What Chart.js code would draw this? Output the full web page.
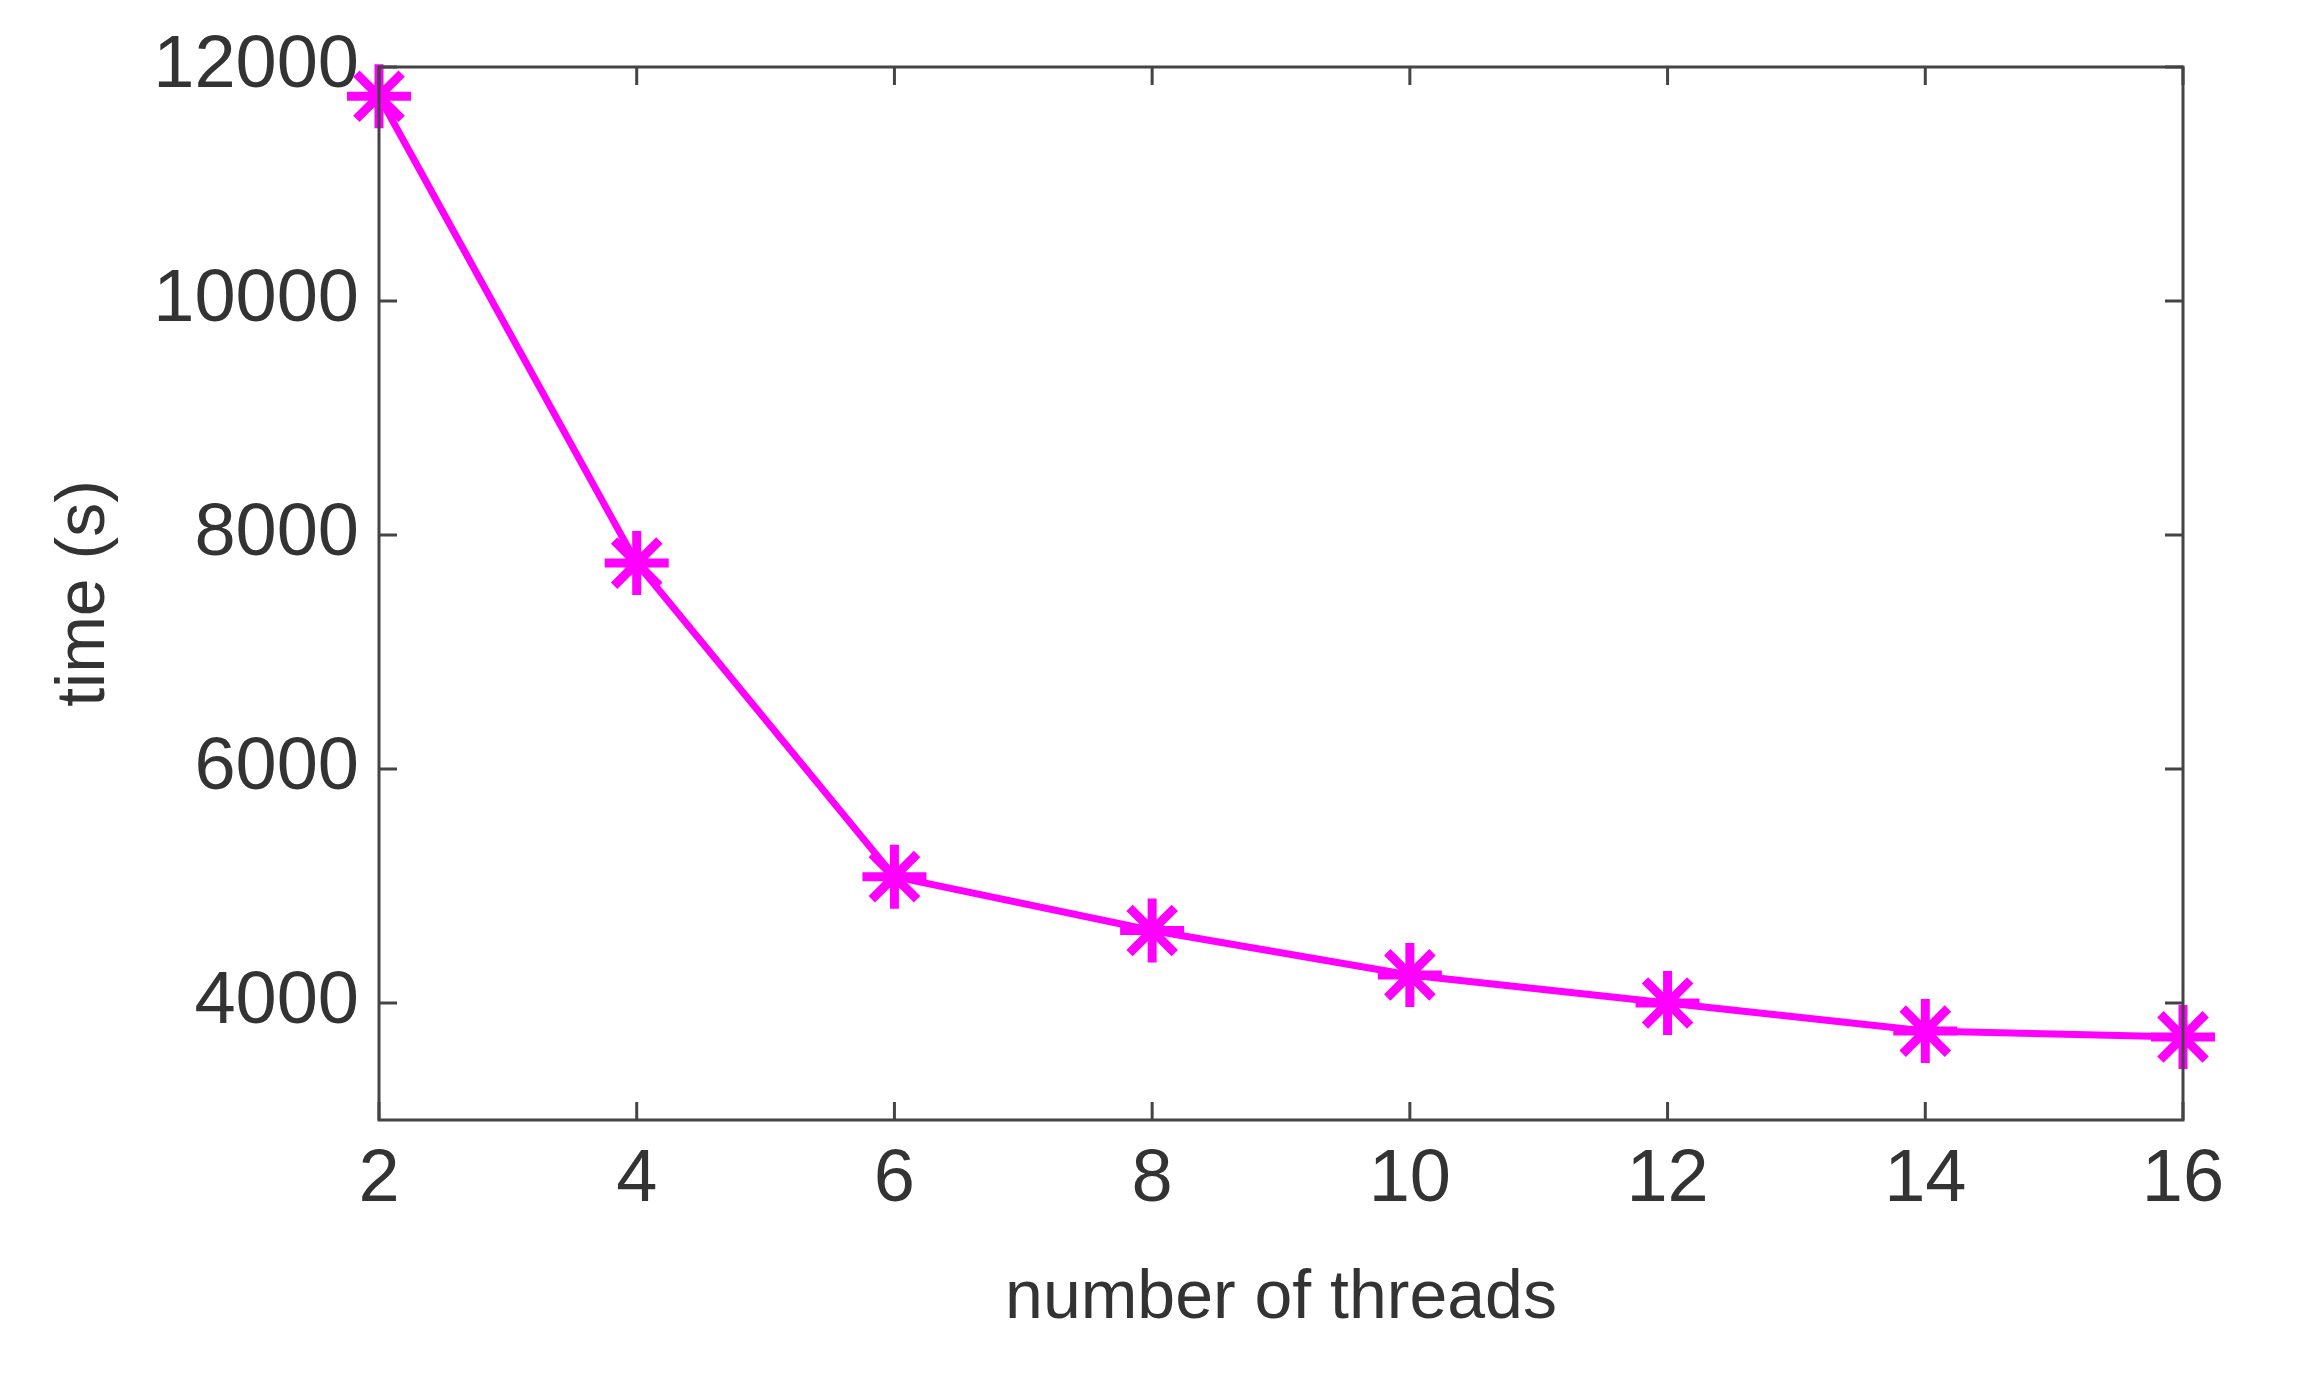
<!DOCTYPE html>
<html>
<head>
<meta charset="utf-8">
<script src="https://cdn.jsdelivr.net/npm/chart.js@4.4.0/dist/chart.umd.min.js"></script>
<style>
html,body{margin:0;padding:0;background:#fff;}
#wrap{width:2301px;height:1396px;}
</style>
</head>
<body>
<div id="wrap"><canvas id="mycanvas"></canvas></div>
<script>
var threads = [2, 4, 6, 8, 10, 12, 14, 16];
var times = [11750, 7760, 5080, 4620, 4240, 4000, 3760, 3710];
var yTicks = [4000, 6000, 8000, 10000, 12000];

// box around plot + small inward ticks like matlab
var boxPlugin = {
	id: 'box',
	afterDraw: function(chart) {
		var c = chart.ctx, a = chart.chartArea;
		var xs = chart.scales.x, ys = chart.scales.y;
		c.save();
		c.strokeStyle = '#444';
		c.lineWidth = 3;
		c.strokeRect(a.left, a.top, a.right - a.left, a.bottom - a.top);
		c.beginPath();
		threads.forEach(function(t) {
			var px = xs.getPixelForValue(t);
			c.moveTo(px, a.bottom); c.lineTo(px, a.bottom - 18);
			c.moveTo(px, a.top); c.lineTo(px, a.top + 18);
		});
		yTicks.forEach(function(v) {
			var py = ys.getPixelForValue(v);
			c.moveTo(a.left, py); c.lineTo(a.left + 18, py);
			c.moveTo(a.right, py); c.lineTo(a.right - 18, py);
		});
		c.stroke();
		c.restore();
	}
};

var fnt = {family: 'Liberation Sans, Arial, sans-serif', size: 74};
var ctx = document.getElementById('mycanvas');
new Chart(ctx, {
	type: 'line',
	data: {
		datasets: [{
			data: threads.map(function(t, i) { return {x: t, y: times[i]}; }),
			borderColor: '#ff00ff',
			backgroundColor: '#ff00ff',
			borderWidth: 7,
			pointStyle: 'star',
			pointRadius: 32,
			pointBorderWidth: 9,
			pointBorderColor: '#ff00ff',
			tension: 0,
			clip: false
		}]
	},
	options: {
		responsive: true,
		maintainAspectRatio: false,
		animation: false,
		layout: {padding: {top: 67, right: 118, left: 40, bottom: 52}},
		plugins: {legend: {display: false}, tooltip: {enabled: false}},
		scales: {
			x: {
				type: 'linear', min: 2, max: 16,
				afterFit: function(s) { s.height = 224; },
				afterBuildTicks: function(s) { s.ticks = threads.map(function(v) { return {value: v}; }); },
				grid: {display: false},
				border: {display: false},
				ticks: {color: '#333', font: fnt, padding: 8, maxRotation: 0, callback: function(v) { return String(v); }},
				title: {display: true, text: 'number of threads', color: '#333', font: {family: fnt.family, size: 68}, padding: {top: 0}}
			},
			y: {
				min: 3000, max: 12000,
				afterFit: function(s) { s.width = 339; },
				afterBuildTicks: function(s) { s.ticks = yTicks.map(function(v) { return {value: v}; }); },
				grid: {display: false},
				border: {display: false},
				ticks: {color: '#333', font: fnt, padding: 12, callback: function(v) { return String(v); }},
				title: {display: true, text: 'time (s)', color: '#333', font: {family: fnt.family, size: 68}, padding: {bottom: 0}}
			}
		}
	},
	plugins: [boxPlugin]
});
</script>
</body>
</html>
